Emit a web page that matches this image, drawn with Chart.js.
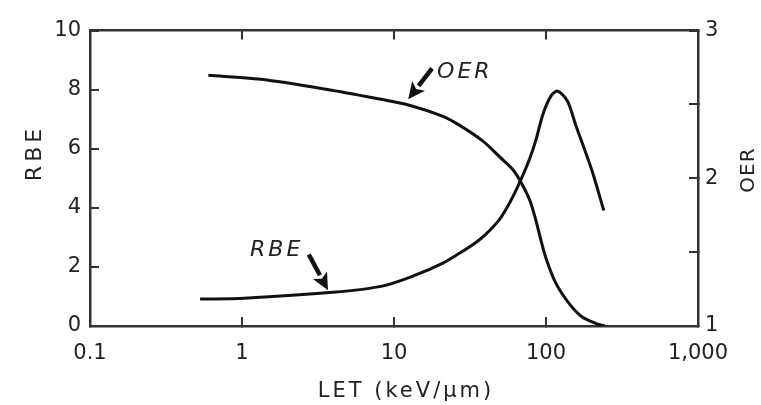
<!DOCTYPE html>
<html>
<head>
<meta charset="utf-8">
<script src="https://cdn.jsdelivr.net/npm/chart.js@4"></script>
<style>
  body { margin: 0; background: #fff; }
</style>
</head>
<body>
<canvas id="chart" width="761" height="405"></canvas>
<script>
// LET values (keV/um) and the curves
const rbeLet = [0.53, 1.03, 3.96, 8.36, 13.8, 20.8, 26.9, 34.4, 40.1, 49.6, 57.8, 68.3, 78.3, 85.9, 95.5, 107.7, 119.5, 138.6, 156, 201, 240];
const rbeVal = [0.91, 0.94, 1.14, 1.35, 1.72, 2.12, 2.46, 2.82, 3.10, 3.62, 4.18, 4.95, 5.68, 6.30, 7.17, 7.78, 7.95, 7.61, 6.84, 5.25, 3.91];

const oerLet = [0.60, 1.33, 3.56, 7.53, 12.6, 20.8, 26.9, 38.3, 49.6, 60.4, 68.3, 78.3, 85.9, 91.3, 100, 116, 143, 173, 210, 244];
const oerVal = [2.697, 2.670, 2.603, 2.542, 2.495, 2.421, 2.360, 2.253, 2.145, 2.060, 1.975, 1.850, 1.714, 1.606, 1.458, 1.290, 1.148, 1.061, 1.020, 1.000];

const xTicks = [0.1, 1, 10, 100, 1000];
const xTickLabels = ["0.1", "1", "10", "100", "1,000"];
const oerTicks = [1, 1.5, 2, 2.5, 3];

const ink = "#222";
const frame = "#333";
const fontFam = "'DejaVu Sans', sans-serif";

// labels + arrows, anchored in data units
const notes = [
  { text: "OER", axis: "y2", at: [19.2, 2.72], tail: [17.8, 2.745], tip: [12.4, 2.535] },
  { text: "RBE", axis: "y", at: [1.13, 2.56], tail: [2.75, 2.42], tip: [3.68, 1.21] }
];

function fixTicks(vals) {
  return function (scale) { scale.ticks = vals.map(v => ({ value: v })); };
}

function arrow(ctx, x1, y1, x2, y2) {
  const ang = Math.atan2(y2 - y1, x2 - x1);
  const head = 17, half = 8;
  const bx = x2 - head * Math.cos(ang), by = y2 - head * Math.sin(ang);
  ctx.beginPath();
  ctx.moveTo(x1, y1);
  ctx.lineTo(bx, by);
  ctx.lineWidth = 4.5;
  ctx.stroke();
  ctx.beginPath();
  ctx.moveTo(x2, y2);
  ctx.lineTo(bx + half * Math.sin(ang), by - half * Math.cos(ang));
  ctx.lineTo(bx + 4 * Math.cos(ang), by + 4 * Math.sin(ang));
  ctx.lineTo(bx - half * Math.sin(ang), by + half * Math.cos(ang));
  ctx.closePath();
  ctx.fill();
}

const extras = {
  id: "extras",
  afterDraw(chart) {
    const ctx = chart.ctx;
    const xs = chart.scales.x;
    ctx.save();
    ctx.fillStyle = ink;
    ctx.strokeStyle = "#111";

    notes.forEach(n => {
      const ys = chart.scales[n.axis];
      ctx.font = "italic 22px " + fontFam;
      ctx.letterSpacing = "3px";
      ctx.textAlign = "left";
      ctx.textBaseline = "middle";
      ctx.fillText(n.text, xs.getPixelForValue(n.at[0]), ys.getPixelForValue(n.at[1]));
      ctx.fillStyle = "#111";
      arrow(ctx, xs.getPixelForValue(n.tail[0]), ys.getPixelForValue(n.tail[1]),
        xs.getPixelForValue(n.tip[0]), ys.getPixelForValue(n.tip[1]));
      ctx.fillStyle = ink;
    });

    // axis titles
    ctx.textAlign = "center";
    ctx.textBaseline = "middle";
    ctx.font = "21px " + fontFam;
    ctx.letterSpacing = "3px";
    ctx.fillText("LET (keV/\u03bcm)", 406, 392);

    ctx.font = "22px " + fontFam;
    ctx.letterSpacing = "4px";
    ctx.save();
    ctx.translate(35, 155);
    ctx.rotate(-Math.PI / 2);
    ctx.fillText("RBE", 2, 0);
    ctx.restore();

    ctx.font = "20px " + fontFam;
    ctx.letterSpacing = "1px";
    ctx.save();
    ctx.translate(749, 170);
    ctx.rotate(-Math.PI / 2);
    ctx.fillText("OER", 0, 0);
    ctx.restore();
    ctx.restore();
  }
};

const tickFont = { family: fontFam, size: 21 };
const axisGrid = { drawOnChartArea: false, tickLength: -9, color: frame, lineWidth: 2 };
const axisBorder = { color: frame, width: 2.5 };

new Chart(document.getElementById("chart"), {
  type: "line",
  data: {
    datasets: [
      {
        label: "RBE",
        data: rbeLet.map((x, i) => ({ x: x, y: rbeVal[i] })),
        yAxisID: "y",
        borderColor: "#111",
        borderWidth: 3,
        pointRadius: 0,
        tension: 0.3
      },
      {
        label: "OER",
        data: oerLet.map((x, i) => ({ x: x, y: oerVal[i] })),
        yAxisID: "y2",
        borderColor: "#111",
        borderWidth: 3,
        pointRadius: 0,
        tension: 0.3
      }
    ]
  },
  options: {
    responsive: false,
    animation: false,
    layout: { padding: { top: 29, left: 0, right: 0, bottom: 0 } },
    plugins: { legend: { display: false }, tooltip: { enabled: false } },
    scales: {
      x: {
        type: "logarithmic",
        position: "bottom",
        min: 0.1,
        max: 1000,
        afterBuildTicks: fixTicks(xTicks),
        afterFit: s => { s.height = 79; },
        grid: axisGrid,
        border: axisBorder,
        ticks: {
          font: tickFont,
          color: ink,
          padding: 24,
          maxRotation: 0,
          autoSkip: false,
          callback: (v, i) => xTickLabels[i]
        }
      },
      x2: {
        type: "logarithmic",
        position: "top",
        min: 0.1,
        max: 1000,
        afterBuildTicks: fixTicks(xTicks),
        afterFit: s => { s.height = 0; },
        grid: axisGrid,
        border: axisBorder,
        ticks: { display: false }
      },
      y: {
        position: "left",
        min: 0,
        max: 10,
        afterFit: s => { s.width = 90; },
        grid: axisGrid,
        border: axisBorder,
        ticks: { stepSize: 2, font: tickFont, color: ink, padding: 18 }
      },
      y2: {
        position: "right",
        min: 1,
        max: 3,
        afterBuildTicks: fixTicks(oerTicks),
        afterFit: s => { s.width = 63; },
        grid: axisGrid,
        border: axisBorder,
        ticks: {
          font: tickFont,
          color: ink,
          padding: 16,
          autoSkip: false,
          callback: v => (Number.isInteger(v) ? String(v) : "")
        }
      }
    }
  },
  plugins: [extras]
});
</script>
</body>
</html>
